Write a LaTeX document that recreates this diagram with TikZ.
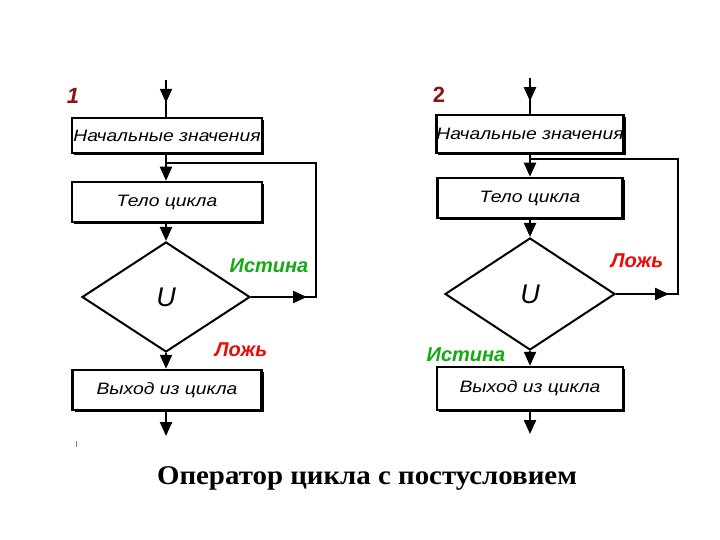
\documentclass[tikz,border=0pt]{standalone}
\usepackage{fontspec}
\setmainfont{Liberation Sans}
\newfontfamily\serifbold{Liberation Serif}
\usetikzlibrary{arrows.meta,shapes.geometric,calc,shadows}
\definecolor{tgreen}{RGB}{20,170,20}
\definecolor{tred}{RGB}{235,10,10}
\definecolor{dred}{RGB}{140,20,20}
\begin{document}
\begin{tikzpicture}[x=1pt,y=-1pt,
  box/.style={draw, line width=2.5pt, fill=white, inner sep=0pt,
    drop shadow={shadow xshift=2pt, shadow yshift=-2pt, fill=black, opacity=1},
    font=\itshape\fontsize{16.5}{16.5}\selectfont},
  dia/.style={draw, diamond, line width=2pt, inner sep=0pt,
    font=\itshape\fontsize{27}{27}\selectfont},
  line/.style={line width=2.2pt},
  arr/.style={line width=2.2pt, -{Triangle[length=14pt,width=12pt]}},
  lbl/.style={font=\bfseries\itshape\fontsize{20}{20}\selectfont},
  num/.style={font=\bfseries\fontsize{22}{22}\selectfont, text=dred}]
\useasboundingbox[fill=white] (0,0) rectangle (720,540);

% ---------- diagram 1 ----------
\node[num, font=\bfseries\itshape\fontsize{22}{22}\selectfont] (n1) at (73,96) {1};
\node[box, minimum width=190pt, minimum height=35pt] (a1) at (167,135.5) {\scalebox{1.17}[1]{Начальные значения}};
\node[box, minimum width=190pt, minimum height=40pt] (a2) at (167,202) {\scalebox{1.17}[1]{Тело цикла}};
\node[dia, minimum width=168pt, minimum height=110pt] (d1) at (166,297) {U};
\node[box, minimum width=189pt, minimum height=40pt] (a3) at (167,390) {\scalebox{1.17}[1]{Выход из цикла}};
\coordinate (a0) at (166,80);
\coordinate (e1) at (166,436);
\coordinate (j1) at (166,163);
\coordinate (c1) at (316,297);
\draw[line] (a0) -- (a0 |- a1.north);
\draw[arr] (a0) -- ($(a0)!0.62!(a0 |- a1.north)$);
\draw[arr] (a0 |- a1.south) -- (a0 |- a2.north);
\draw[arr] (a0 |- a2.south) -- (d1.north);
\draw[arr] (d1.south) -- (a0 |- a3.north);
\draw[arr] (a0 |- a3.south) -- (e1);
\draw[line] (d1.east) -- (c1) |- (j1);
\draw[arr] (d1.east) -- ($(c1)+(-9,0)$);
\node[lbl, text=tgreen] (t1) at (269,266) {Истина};
\node[lbl, text=tred] (f1) at (241,350) {Ложь};
\draw[line width=0.8pt, gray] (76,441) -- (76,447);

% ---------- diagram 2 ----------
\node[num] (n2) at (439,95) {2};
\node[box, minimum width=186pt, minimum height=38pt] (b1) at (530,134) {\scalebox{1.17}[1]{Начальные значения}};
\node[box, minimum width=185pt, minimum height=40pt] (b2) at (530,198) {\scalebox{1.17}[1]{Тело цикла}};
\node[dia, minimum width=170pt, minimum height=112pt] (d2) at (530,294) {U};
\node[box, minimum width=186pt, minimum height=43pt] (b3) at (530,388.5) {\scalebox{1.17}[1]{Выход из цикла}};
\coordinate (b0) at (530,78);
\coordinate (e2) at (530,434);
\coordinate (j2) at (530,159);
\coordinate (c2) at (678,294);
\draw[line] (b0) -- (b1.north);
\draw[arr] (b0) -- ($(b0)!0.65!(b1.north)$);
\draw[arr] (b1.south) -- (b2.north);
\draw[arr] (b2.south) -- (d2.north);
\draw[arr] (d2.south) -- (b3.north);
\draw[arr] (b3.south) -- (e2);
\draw[line] (d2.east) -- (c2) |- (j2);
\draw[arr] (d2.east) -- ($(c2)+(-9,0)$);
\node[lbl, text=tred] (f2) at (637,261) {Ложь};
\node[lbl, text=tgreen] (t2) at (466,355) {Истина};

% ---------- title ----------
\node[font=\serifbold\bfseries\fontsize{27}{27}\selectfont] (title) at (367,478) {\scalebox{1.07}[1]{Оператор цикла с постусловием}};
\end{tikzpicture}
\end{document}
